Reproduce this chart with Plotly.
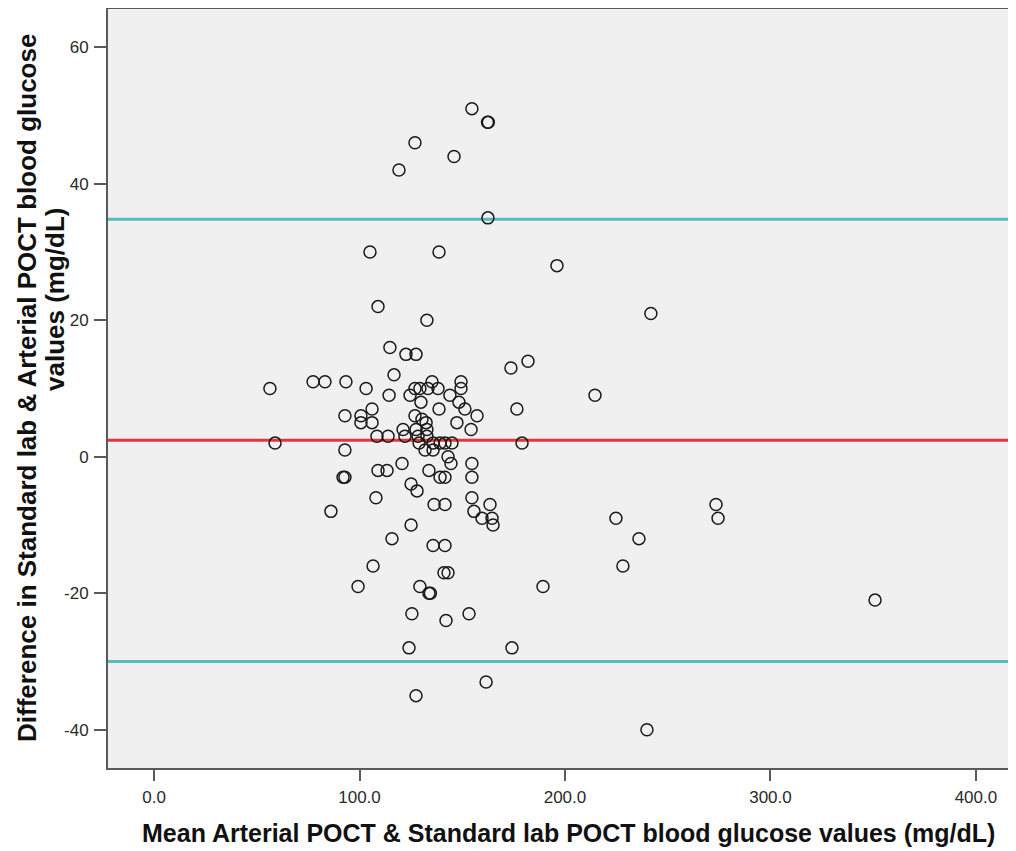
import plotly.graph_objects as go

# Bland-Altman data (mean of methods, difference)
mean_values = [
    56.4, 58.9, 77.4, 83.2, 93.4, 92.9, 92.9, 92.9, 92.0, 86.1,
    99.3, 132.8, 114.8, 122.6, 127.5, 116.8, 103.2, 114.4, 124.6, 127.0,
    129.4, 133.3, 135.3, 138.2, 129.9, 144.0, 149.4, 149.4, 148.4, 151.3,
    157.2, 173.7, 182.0, 176.6, 179.1, 100.7, 100.7, 106.1, 106.1, 138.7,
    127.0, 130.4, 132.4, 147.4, 154.3, 108.5, 113.9, 121.2, 122.1, 127.5,
    128.5, 132.8, 132.8, 129.0, 131.9, 135.8, 135.8, 139.2, 141.6, 145.0,
    143.1, 144.5, 109.0, 113.4, 120.7, 133.8, 139.2, 141.6, 154.7, 154.7,
    125.1, 128.0, 108.0, 154.7, 163.5, 155.7, 159.6, 164.5, 165.0, 136.3,
    141.6, 125.1, 115.8, 135.8, 141.6, 106.6, 141.1, 143.1, 129.4, 133.8,
    134.5, 189.3, 125.5, 142.1, 153.3, 124.1, 174.2, 161.6, 127.5, 154.7,
    162.3, 162.7, 127.0, 146.0, 119.2, 162.5, 105.1, 138.7, 109.0, 196.1,
    241.8, 214.6, 224.8, 228.2, 236.0, 273.5, 274.5, 350.9, 239.9,
]
diff_values = [
    10.0, 2.0, 11.0, 11.0, 11.0, 6.0, 1.0, -3.0, -3.0, -8.0,
    -19.0, 20.0, 16.0, 15.0, 15.0, 12.0, 10.0, 9.0, 9.0, 10.0,
    10.0, 10.0, 11.0, 10.0, 8.0, 9.0, 11.0, 10.0, 8.0, 7.0,
    6.0, 13.0, 14.0, 7.0, 2.0, 6.0, 5.0, 7.0, 5.0, 7.0,
    6.0, 5.5, 5.0, 5.0, 4.0, 3.0, 3.0, 4.0, 3.0, 4.0,
    3.0, 4.0, 3.0, 2.0, 1.0, 1.0, 2.0, 2.0, 2.0, 2.0,
    0.0, -1.0, -2.0, -2.0, -1.0, -2.0, -3.0, -3.0, -1.0, -3.0,
    -4.0, -5.0, -6.0, -6.0, -7.0, -8.0, -9.0, -9.0, -10.0, -7.0,
    -7.0, -10.0, -12.0, -13.0, -13.0, -16.0, -17.0, -17.0, -19.0, -20.0,
    -20.0, -19.0, -23.0, -24.0, -23.0, -28.0, -28.0, -33.0, -35.0, 51.0,
    49.0, 49.0, 46.0, 44.0, 42.0, 35.0, 30.0, 30.0, 22.0, 28.0,
    21.0, 9.0, -9.0, -16.0, -12.0, -7.0, -9.0, -21.0, -40.0,
]

mean_diff = 2.4
upper_loa = 34.8
lower_loa = -30.0

x_ticks = [0, 100, 200, 300, 400]
x_tick_labels = ["0.0", "100.0", "200.0", "300.0", "400.0"]
y_ticks = [-40, -20, 0, 20, 40, 60]
y_tick_labels = ["-40", "-20", "0", "20", "40", "60"]

x_range = [-22.4, 419.5]
y_range = [-45.6, 65.6]

fig = go.Figure()

for yv, col in [(upper_loa, "#55bdb9"), (lower_loa, "#55bdb9"), (mean_diff, "#e5363c")]:
    fig.add_trace(go.Scatter(
        x=x_range, y=[yv, yv], mode="lines",
        line=dict(color=col, width=3), hoverinfo="skip", showlegend=False,
    ))

fig.add_trace(go.Scatter(
    x=mean_values, y=diff_values, mode="markers",
    marker=dict(symbol="circle-open", size=12, color="#1a1a1a",
                line=dict(width=1.5, color="#1a1a1a")),
    showlegend=False,
))

tick_font = dict(family="Liberation Sans, Arial, sans-serif", size=17, color="#2a2a2a")
x_title_font = dict(family="Liberation Sans, Arial, sans-serif", size=25, color="#111111")
y_title_font = dict(family="Liberation Sans, Arial, sans-serif", size=26, color="#111111")

fig.update_layout(
    width=1008, height=843,
    margin=dict(l=100, r=0, t=1, b=83),
    paper_bgcolor="white", plot_bgcolor="#f0f0f0",
    xaxis=dict(
        range=x_range, tickvals=x_ticks, ticktext=x_tick_labels,
        showgrid=False, zeroline=False,
        showline=True, mirror=True, linecolor="#5a5a5a", linewidth=2,
        ticks="outside", ticklen=11, tickwidth=2, tickcolor="#5a5a5a",
        tickfont=tick_font, ticklabelstandoff=2,
    ),
    yaxis=dict(
        range=y_range, tickvals=y_ticks, ticktext=y_tick_labels,
        showgrid=False, zeroline=False,
        showline=True, mirror=False, linecolor="#5a5a5a", linewidth=2,
        ticks="outside", ticklen=12, tickwidth=2, tickcolor="#5a5a5a",
        tickfont=tick_font, ticklabelstandoff=2,
    ),
    annotations=[
        dict(text="<b>Mean Arterial POCT & Standard lab POCT blood glucose values (mg/dL)</b>",
             xref="paper", yref="paper", x=0.507, y=0, yshift=-65,
             xanchor="center", yanchor="middle", showarrow=False, font=x_title_font),
        dict(text="<b>Difference in Standard lab & Arterial POCT blood glucose</b>",
             xref="paper", yref="paper", x=0, xshift=-81, y=0.5007,
             xanchor="center", yanchor="middle", textangle=-90, showarrow=False, font=y_title_font),
        dict(text="<b>values (mg/dL)</b>",
             xref="paper", yref="paper", x=0, xshift=-53, y=0.6166,
             xanchor="center", yanchor="middle", textangle=-90, showarrow=False, font=y_title_font),
    ],
)

fig.write_html("out.html")
